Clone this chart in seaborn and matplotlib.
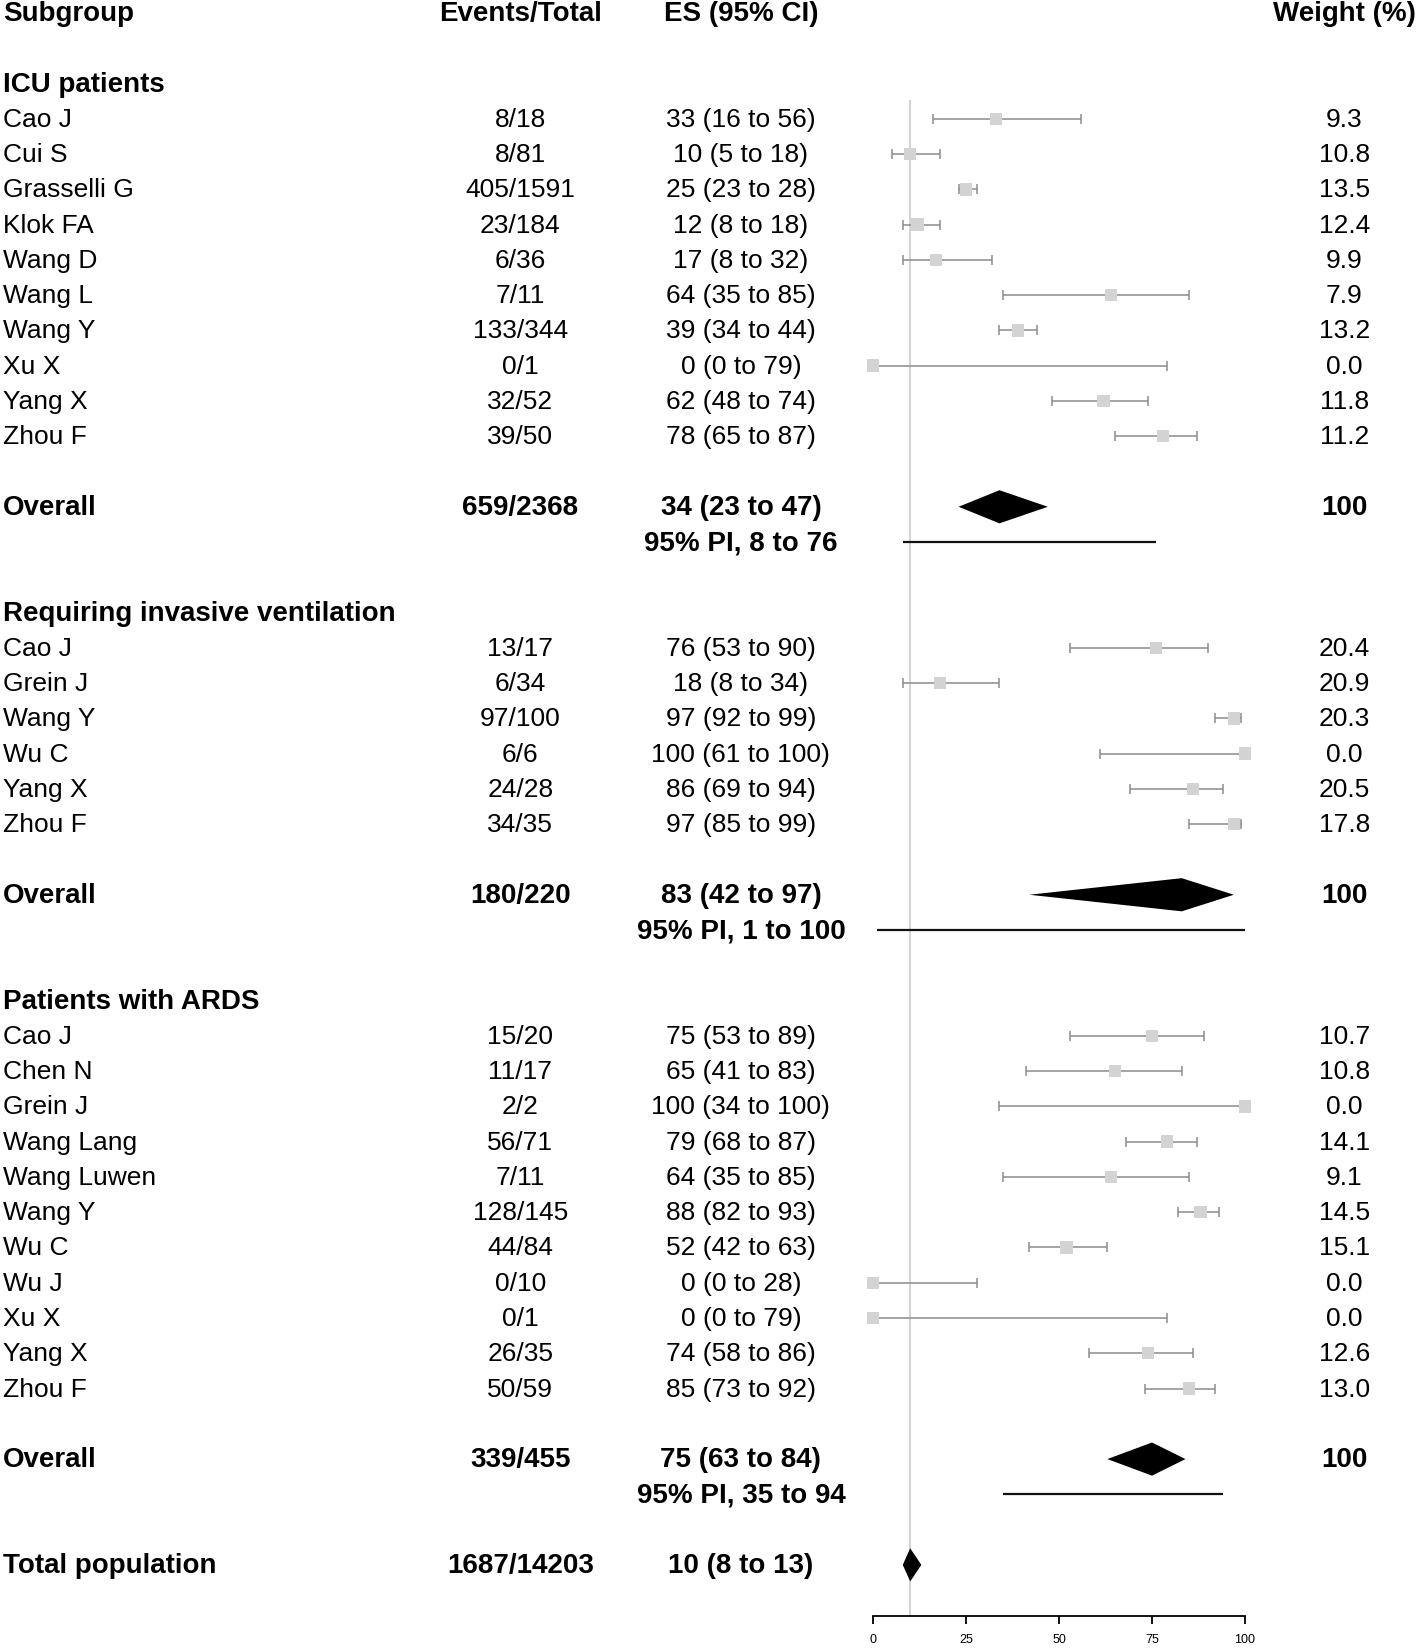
import matplotlib
matplotlib.use("Agg")
import matplotlib.pyplot as plt
import numpy as np
import pandas as pd
import seaborn as sns

# ---- data ----
icu_names = ["Cao J", "Cui S", "Grasselli G", "Klok FA", "Wang D", "Wang L",
             "Wang Y", "Xu X", "Yang X", "Zhou F"]
icu_events = [8, 8, 405, 23, 6, 7, 133, 0, 32, 39]
icu_totals = [18, 81, 1591, 184, 36, 11, 344, 1, 52, 50]
icu_es = [33, 10, 25, 12, 17, 64, 39, 0, 62, 78]
icu_lo = [16, 5, 23, 8, 8, 35, 34, 0, 48, 65]
icu_hi = [56, 18, 28, 18, 32, 85, 44, 79, 74, 87]
icu_w = [9.3, 10.8, 13.5, 12.4, 9.9, 7.9, 13.2, 0.0, 11.8, 11.2]
icu_overall = (659, 2368, 34, 23, 47)
icu_pi = (8, 76)

vent_names = ["Cao J", "Grein J", "Wang Y", "Wu C", "Yang X", "Zhou F"]
vent_events = [13, 6, 97, 6, 24, 34]
vent_totals = [17, 34, 100, 6, 28, 35]
vent_es = [76, 18, 97, 100, 86, 97]
vent_lo = [53, 8, 92, 61, 69, 85]
vent_hi = [90, 34, 99, 100, 94, 99]
vent_w = [20.4, 20.9, 20.3, 0.0, 20.5, 17.8]
vent_overall = (180, 220, 83, 42, 97)
vent_pi = (1, 100)

ards_names = ["Cao J", "Chen N", "Grein J", "Wang Lang", "Wang Luwen", "Wang Y",
              "Wu C", "Wu J", "Xu X", "Yang X", "Zhou F"]
ards_events = [15, 11, 2, 56, 7, 128, 44, 0, 0, 26, 50]
ards_totals = [20, 17, 2, 71, 11, 145, 84, 10, 1, 35, 59]
ards_es = [75, 65, 100, 79, 64, 88, 52, 0, 0, 74, 85]
ards_lo = [53, 41, 34, 68, 35, 82, 42, 0, 0, 58, 73]
ards_hi = [89, 83, 100, 87, 85, 93, 63, 28, 79, 86, 92]
ards_w = [10.7, 10.8, 0.0, 14.1, 9.1, 14.5, 15.1, 0.0, 0.0, 12.6, 13.0]
ards_overall = (339, 455, 75, 63, 84)
ards_pi = (35, 94)

total_overall = (1687, 14203, 10, 8, 13)

groups = [
    ("ICU patients", icu_names, icu_events, icu_totals, icu_es, icu_lo, icu_hi, icu_w, icu_overall, icu_pi),
    ("Requiring invasive ventilation", vent_names, vent_events, vent_totals, vent_es, vent_lo, vent_hi, vent_w, vent_overall, vent_pi),
    ("Patients with ARDS", ards_names, ards_events, ards_totals, ards_es, ards_lo, ards_hi, ards_w, ards_overall, ards_pi),
]

# ---- style ----
sns.set_style("white")
plt.rcParams["font.family"] = ["Liberation Sans", "DejaVu Sans"]
plt.rcParams["text.color"] = "black"
plt.rcParams["xtick.color"] = "black"

FS = 19
FSB = 20
X_NAME, X_EVT, X_ES, X_W = 0.002, 0.367, 0.5225, 0.948
ROW_PX = 35.27
GRAY = "#8c8c8c"

fig = plt.figure(figsize=(14.18, 16.49), dpi=100)
bottom = 32 / 1649
ax = fig.add_axes([0, bottom, 1, 1 - bottom])
ax.set_xlim(-873 / 3.72, (1418 - 873) / 3.72)
ax.set_ylim((1617 - 14) / ROW_PX, -14 / ROW_PX)
tr = ax.get_yaxis_transform()


def txt(x, y, s, bold=False, ha="center"):
    ax.text(x, y, s, transform=tr, ha=ha, va="center",
            fontsize=FSB if bold else FS,
            fontweight="bold" if bold else "normal", clip_on=False)


def diamond(y, es, lo, hi, h=0.47):
    ax.fill([lo, es, hi, es], [y, y - h, y, y + h], color="black", lw=0, zorder=4)


# header
txt(X_NAME, 0, "Subgroup", bold=True, ha="left")
txt(X_EVT, 0, "Events/Total", bold=True)
txt(X_ES, 0, "ES (95% CI)", bold=True)
txt(0.9985, 0, "Weight (%)", bold=True, ha="right")

rows = []
r = 2
for title, names, ev, tot, es, lo, hi, w, ov, pi in groups:
    txt(X_NAME, r, title, bold=True, ha="left")
    for i, n in enumerate(names):
        y = r + 1 + i
        txt(X_NAME, y, n, ha="left")
        txt(X_EVT, y, f"{ev[i]}/{tot[i]}")
        txt(X_ES, y, f"{es[i]} ({lo[i]} to {hi[i]})")
        txt(X_W, y, f"{w[i]:.1f}")
        rows.append({"row": y, "es": es[i], "lo": lo[i], "hi": hi[i]})
    yo = r + len(names) + 2
    txt(X_NAME, yo, "Overall", bold=True, ha="left")
    txt(X_EVT, yo, f"{ov[0]}/{ov[1]}", bold=True)
    txt(X_ES, yo, f"{ov[2]} ({ov[3]} to {ov[4]})", bold=True)
    txt(X_W, yo, "100", bold=True)
    diamond(yo, ov[2], ov[3], ov[4])
    txt(X_ES, yo + 1, f"95% PI, {pi[0]} to {pi[1]}", bold=True)
    ax.hlines(yo + 1, pi[0], pi[1], color="#111111", lw=1.6, zorder=3)
    r = yo + 3

# total population
yt = r
txt(X_NAME, yt, "Total population", bold=True, ha="left")
txt(X_EVT, yt, f"{total_overall[0]}/{total_overall[1]}", bold=True)
txt(X_ES, yt, f"{total_overall[2]} ({total_overall[3]} to {total_overall[4]})", bold=True)
diamond(yt, total_overall[2], total_overall[3], total_overall[4])

df = pd.DataFrame(rows)

# reference line at overall total estimate
ax.vlines(total_overall[2], 2.47, ax.get_ylim()[0], color="#cfcfcf", lw=1.3, zorder=1)

ax.errorbar(df["es"], df["row"], xerr=[df["es"] - df["lo"], df["hi"] - df["es"]],
            fmt="none", ecolor=GRAY, elinewidth=1.1, capsize=3.5, capthick=1.1, zorder=2)
sns.scatterplot(data=df, x="es", y="row", marker="s", s=80, color="#d3d3d3",
                edgecolor="none", ax=ax, zorder=3, legend=False)
ax.set_xlabel("")
ax.set_ylabel("")

for s in ["top", "left", "right"]:
    ax.spines[s].set_visible(False)
ax.spines["bottom"].set_bounds(0, 100)
ax.spines["bottom"].set_linewidth(1.3)
ax.spines["bottom"].set_color("black")
ax.set_xticks([0, 25, 50, 75, 100])
ax.set_yticks([])
ax.tick_params(axis="x", labelsize=9, length=6, width=1.3, color="black",
               labelcolor="black", direction="out", pad=6, bottom=True)

fig.savefig("out.png", dpi=100)
